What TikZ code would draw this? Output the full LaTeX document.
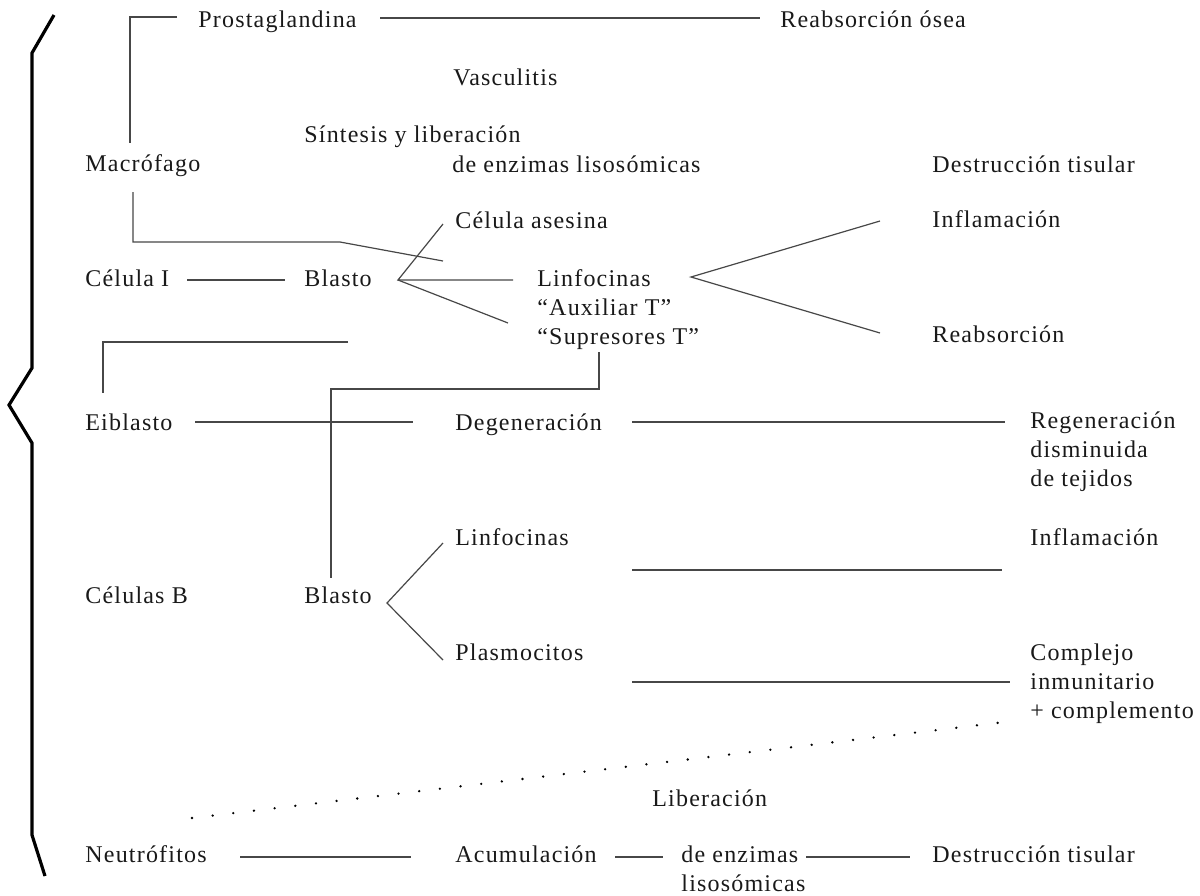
\documentclass[tikz,border=0pt]{standalone}
\usepackage{fontspec}
\setmainfont[LetterSpace=5]{Liberation Serif}
\usetikzlibrary{calc}

\tikzset{
	txt/.style={anchor=base west, inner sep=0pt, text=black!90, font=\fontsize{12}{14}\selectfont},
	ln/.style={line width=0.6pt, color=black!72},
	bracestroke/.style={line width=1.6pt, line join=miter}
}

\begin{document}
\begin{tikzpicture}[x=0.5pt, y=-0.5pt]
			%%%%% START %%%%%
			\useasboundingbox (0, 0) rectangle (1200, 895);
			
			\draw[bracestroke] (54, 15) -- (32, 53) -- (32, 368) -- (9, 405) -- (32, 443) -- (32, 835) -- (45, 876);
			
			% column 1
			\node[txt] (macro) at (85, 171) {Macrófago};
			\node[txt] (celI) at (85, 286) {Célula I};
			\node[txt] (eibl) at (85, 430) {Eiblasto};
			\node[txt] (celB) at (85, 603) {Células B};
			\node[txt] (neutro) at (85, 862) {Neutrófitos};
			
			% column 2
			\node[txt] (prosta) at (198, 27) {Prostaglandina};
			\node[txt] (sintesis) at (304, 142) {Síntesis y liberación};
			\node[txt] (blastoA) at (304, 286) {Blasto};
			\node[txt] (blastoB) at (304, 603) {Blasto};
			
			% column 3
			\node[txt] (vascul) at (453, 85) {Vasculitis};
			\node[txt] (enzimas) at (452, 172) {de enzimas lisosómicas};
			\node[txt] (asesina) at (455, 228) {Célula asesina};
			\node[txt] (linfoA) at (537, 286) {Linfocinas};
			\node[txt] (auxT) at (537, 315) {``Auxiliar T''};
			\node[txt] (supT) at (537, 344) {``Supresores T''};
			\node[txt] (degen) at (455, 430) {Degeneración};
			\node[txt] (linfoB) at (455, 545) {Linfocinas};
			\node[txt] (plasmo) at (455, 660) {Plasmocitos};
			\node[txt] (liber) at (652, 806) {Liberación};
			\node[txt] (acum) at (455, 862) {Acumulación};
			\node[txt] (enzB) at (681, 862) {de enzimas};
			\node[txt] (lisos) at (681, 891) {lisosómicas};
			
			% column 4
			\node[txt] (reabsosea) at (780, 27) {Reabsorción ósea};
			\node[txt] (destrA) at (932, 172) {Destrucción tisular};
			\node[txt] (inflamA) at (932, 227) {Inflamación};
			\node[txt] (reabs) at (932, 342) {Reabsorción};
			\node[txt] (destrB) at (932, 862) {Destrucción tisular};
			\node[txt] (regen) at (1030, 428) {Regeneración};
			\node[txt] (dismin) at (1030, 457) {disminuida};
			\node[txt] (tejidos) at (1030, 486) {de tejidos};
			\node[txt] (inflamB) at (1030, 545) {Inflamación};
			\node[txt] (complejo) at (1030, 660) {Complejo};
			\node[txt] (inmun) at (1030, 689) {inmunitario};
			\node[txt] (complem) at (1030, 718) {+ complemento};
			
			% line ends
			\coordinate (prostaL) at (177, 17);
			\coordinate (prostaR) at (380, 18);
			\coordinate (osea) at (760, 18);
			\coordinate (macroT) at (130, 143);
			\coordinate (macroB) at (133, 192);
			\coordinate (macroK) at (340, 242);
			\coordinate (macroE) at (443, 261);
			\coordinate (celIr) at (187, 280);
			\coordinate (blastoAl) at (285, 280);
			\coordinate (forkA) at (398, 280);
			\coordinate (asesinaL) at (443, 224);
			\coordinate (linfoAl) at (513, 280);
			\coordinate (supTl) at (508, 323);
			\coordinate (forkC) at (691, 277);
			\coordinate (inflamAl) at (880, 221);
			\coordinate (reabsL) at (880, 333);
			\coordinate (supTb) at (599, 352);
			\coordinate (supTk) at (599, 389);
			\coordinate (blastoBk) at (331, 389);
			\coordinate (blastoBt) at (331, 578);
			\coordinate (eiblR) at (348, 342);
			\coordinate (eiblT) at (103, 393);
			\coordinate (eiblr) at (195, 422);
			\coordinate (degenL) at (413, 422);
			\coordinate (degenR) at (632, 422);
			\coordinate (regenL) at (1005, 422);
			\coordinate (forkB) at (387, 603);
			\coordinate (linfoBl) at (443, 543);
			\coordinate (plasmoL) at (443, 660);
			\coordinate (linfoBr) at (632, 570);
			\coordinate (inflamBl) at (1002, 570);
			\coordinate (plasmoR) at (632, 682);
			\coordinate (complejoL) at (1010, 682);
			\coordinate (dotsL) at (192, 818);
			\coordinate (dotsR) at (1005, 722);
			\coordinate (neutroR) at (240, 857);
			\coordinate (acumL) at (411, 857);
			\coordinate (acumR) at (615, 857);
			\coordinate (enzBl) at (663, 857);
			\coordinate (enzBr) at (806, 857);
			\coordinate (destrBl) at (910, 857);
			
			\draw[ln] (prostaL) -- (prostaL -| macroT) -- (macroT);
			\draw[ln] (prostaR) -- (osea);
			\draw[ln] (macroB) -- (macroB |- macroK) -- (macroK) -- (macroE);
			
			\draw[ln] (celIr) -- (blastoAl);
			\draw[ln] (asesinaL) -- (forkA) -- (linfoAl);
			\draw[ln] (forkA) -- (supTl);
			\draw[ln] (inflamAl) -- (forkC) -- (reabsL);
			
			\draw[ln] (supTb) -- (supTk) -- (blastoBk) -- (blastoBt);
			\draw[ln] (eiblR) -- (eiblR -| eiblT) -- (eiblT);
			
			\draw[ln] (eiblr) -- (degenL);
			\draw[ln] (degenR) -- (regenL);
			
			\draw[ln] (linfoBl) -- (forkB) -- (plasmoL);
			\draw[ln] (linfoBr) -- (inflamBl);
			\draw[ln] (plasmoR) -- (complejoL);
			
			\draw[line width=1.3pt, line cap=round, dash pattern=on 0pt off 10.4pt] (dotsL) -- (dotsR);
			
			\draw[ln] (neutroR) -- (acumL);
			\draw[ln] (acumR) -- (enzBl);
			\draw[ln] (enzBr) -- (destrBl);
			%%%%% END %%%%%
\end{tikzpicture}
\end{document}
